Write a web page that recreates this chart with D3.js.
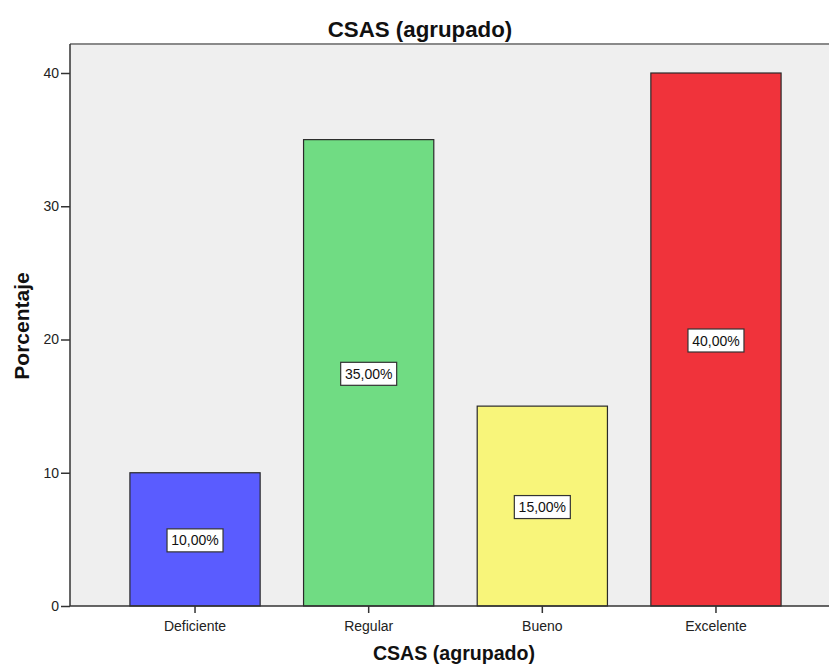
<!DOCTYPE html>
<html><head><meta charset="utf-8">
<script src="https://cdn.jsdelivr.net/npm/d3@7"></script>
<style>body{margin:0;background:#fff}svg{display:block}text{font-family:Arial,"Liberation Sans",sans-serif}</style>
</head><body>
<script>
const categories = ["Deficiente","Regular","Bueno","Excelente"];
const values = [10, 35, 15, 40];
const labels = ["10,00%","35,00%","15,00%","40,00%"];
const colors = ["#5a5cff","#70dc83","#f8f57a","#f0333b"];
const yTicks = [0,10,20,30,40];

const W = 829, H = 666;
const m = {left:70, top:44, bottom:606, right:841};
const FONT = "Arial,'Liberation Sans',sans-serif";
const svg = d3.select("body").append("svg").attr("width",W).attr("height",H);

const x = d3.scaleBand().domain(categories).range([m.left, m.right]).paddingInner(0.25).paddingOuter(0.345);
const y = d3.scaleLinear().domain([0,40]).range([m.bottom, 73]);

svg.append("rect").attr("x",m.left).attr("y",m.top).attr("width",m.right-m.left).attr("height",m.bottom-m.top).attr("fill","#efefef");
svg.append("line").attr("x1",m.left).attr("x2",W).attr("y1",m.top).attr("y2",m.top).attr("stroke","#8a8a8a").attr("stroke-width",2);

svg.selectAll("rect.bar").data(values).join("rect").attr("class","bar")
  .attr("x",(d,i)=>x(categories[i])).attr("width",x.bandwidth())
  .attr("y",d=>y(d)).attr("height",d=>y(0)-y(d))
  .attr("fill",(d,i)=>colors[i]).attr("stroke","#2a2a2a").attr("stroke-width",1.2);

const g = svg.selectAll("g.lab").data(values).join("g").attr("class","lab")
  .attr("transform",(d,i)=>`translate(${x(categories[i])+x.bandwidth()/2},${y(d/2)+1})`);
g.append("rect").attr("x",-28).attr("y",-11.5).attr("width",56).attr("height",23).attr("fill","#fff").attr("stroke","#333").attr("stroke-width",1.2);
g.append("text").attr("text-anchor","middle").attr("dy","0.36em").attr("font-size",14).attr("fill","#111").text((d,i)=>labels[i]);

const yAxis = svg.append("g").attr("transform",`translate(${m.left},0)`)
  .call(d3.axisLeft(y).tickValues(yTicks).tickSize(9).tickSizeOuter(0).tickPadding(2));
yAxis.select(".domain").attr("stroke","#333").attr("stroke-width",1.5).attr("d",`M0,${m.top}V${m.bottom}`);
yAxis.selectAll(".tick line").attr("stroke","#333").attr("stroke-width",1.5);
yAxis.selectAll("text").attr("font-size",14).attr("fill","#222").attr("font-family",FONT);

const xAxis = svg.append("g").attr("transform",`translate(0,${m.bottom})`)
  .call(d3.axisBottom(x).tickSize(7).tickSizeOuter(0).tickPadding(8));
xAxis.select(".domain").attr("stroke","#333").attr("stroke-width",1.5).attr("d",`M${m.left},0H${W}`);
xAxis.selectAll(".tick line").attr("stroke","#333").attr("stroke-width",1.5);
xAxis.selectAll("text").attr("font-size",14).attr("fill","#222").attr("font-family",FONT);

svg.append("text").attr("x",420).attr("y",37).attr("text-anchor","middle").attr("font-size",22.3).attr("font-weight","bold").attr("fill","#111").text("CSAS (agrupado)");
svg.append("text").attr("x",454).attr("y",660).attr("text-anchor","middle").attr("font-size",19.6).attr("font-weight","bold").attr("fill","#111").text("CSAS (agrupado)");
svg.append("text").attr("transform",`translate(29,326) rotate(-90)`).attr("text-anchor","middle").attr("font-size",21).attr("font-weight","bold").attr("fill","#111").text("Porcentaje");
</script>
</body></html>
